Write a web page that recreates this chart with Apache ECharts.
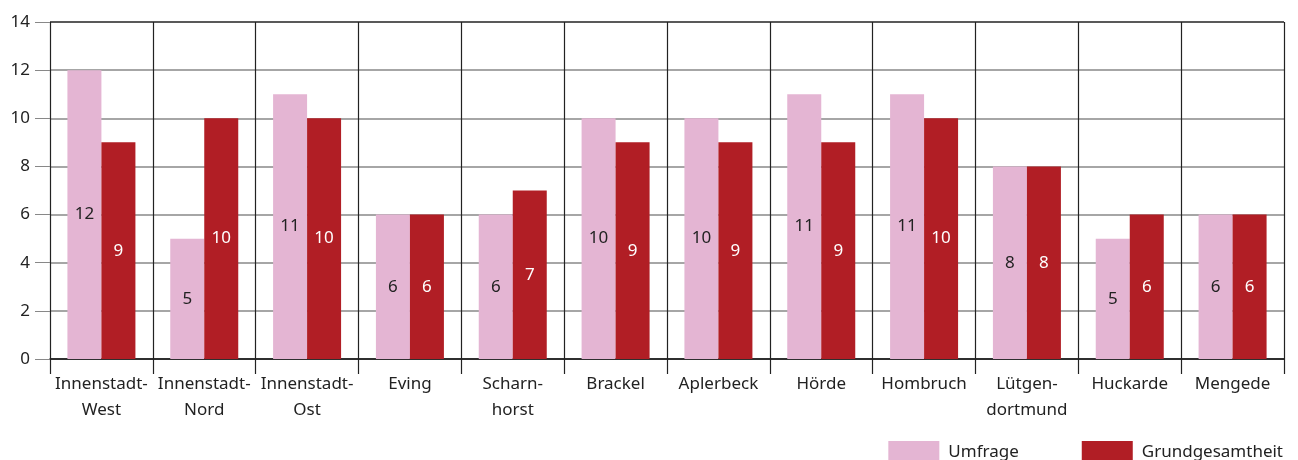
<!DOCTYPE html>
<html><head><meta charset="utf-8">
<script src="https://cdn.jsdelivr.net/npm/echarts@6/dist/echarts.min.js"></script>
<style>html,body{margin:0;padding:0;background:#fff}#c{width:1298px;height:460px}</style>
</head><body><div id="c"></div>
<script>
const categories = ['Innenstadt-\nWest','Innenstadt-\nNord','Innenstadt-\nOst','Eving','Scharn-\nhorst','Brackel','Aplerbeck','Hörde','Hombruch','Lütgen-\ndortmund','Huckarde','Mengede'];
const umfrage = [12,5,11,6,6,10,10,11,11,8,5,6];
const grundgesamtheit = [9,10,10,6,7,9,9,9,10,8,6,6];
const yTicks = [0,2,4,6,8,10,12,14];

const chart = echarts.init(document.getElementById('c'));
const font = 'Noto Sans';
const fs = 17;
chart.setOption({
  animation:false,
  textStyle:{fontFamily:font},
  grid:{left:50,right:14,top:22,bottom:101},
  legend:{
    right:10,top:436,itemWidth:51,itemHeight:23,itemGap:63,
    textStyle:{fontFamily:font,fontSize:fs,color:'#222',padding:[0,0,0,4]},
    data:['Umfrage','Grundgesamtheit'],
    icon:'rect'
  },
  xAxis:{
    type:'category',data:categories,
    axisLine:{lineStyle:{color:'#222',width:1.5}},
    axisTick:{show:true,length:15,lineStyle:{color:'#222',width:1.2}},
    splitLine:{show:true,lineStyle:{color:'#222',width:1.2}},
    axisLabel:{fontFamily:font,fontSize:fs,color:'#222',lineHeight:26,margin:12,interval:0}
  },
  yAxis:{
    type:'value',min:yTicks[0],max:yTicks[yTicks.length-1],interval:2,
    axisLine:{show:false},
    axisTick:{show:true,length:15,lineStyle:{color:'#888'}},
    splitLine:{show:true,lineStyle:{color:['#222','#888','#888','#888','#888','#888','#888','#222'],width:1.5}},
    axisLabel:{fontFamily:font,fontSize:fs,color:'#222',margin:20}
  },
  series:[
    {name:'Umfrage',type:'bar',data:umfrage,barWidth:34,barGap:'0%',
     itemStyle:{color:'#e4b5d3'},
     label:{show:true,position:'inside',fontFamily:font,fontSize:fs,color:'#222'}},
    {name:'Grundgesamtheit',type:'bar',data:grundgesamtheit,barWidth:34,barGap:'0%',
     itemStyle:{color:'#b11e25'},
     label:{show:true,position:'inside',fontFamily:font,fontSize:fs,color:'#fff'}}
  ]
});
</script></body></html>
